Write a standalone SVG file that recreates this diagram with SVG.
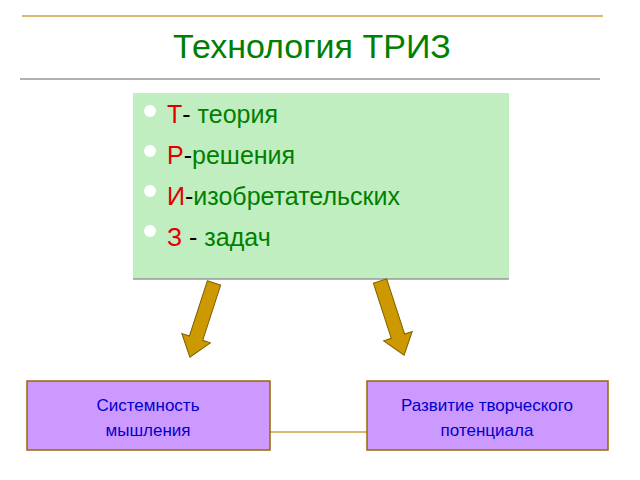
<svg xmlns="http://www.w3.org/2000/svg" width="640" height="480" viewBox="0 0 640 480">
<defs><style>
text{font-family:"Liberation Sans",Arial,sans-serif}
.it{font-size:25px;fill:#008000}
.r{fill:#e00000}
.k{fill:#000}
.box{fill:#cc99ff;stroke:#996600;stroke-width:1.5}
.bt{font-size:17px;fill:#0000cc;text-anchor:middle}
.arr{fill:#cc9900;stroke:#806000;stroke-width:1}
.dot{fill:#fff}
</style>
<path id="a" d="M-7,0 L7,0 L7,58 L15,58 L0,78 L-15,58 L-7,58 Z"/>
</defs>
<rect width="640" height="480" fill="#fff"/>
<g id="title">
<line x1="22" y1="16" x2="603" y2="16" stroke="#c8a040" stroke-width="1.5"/>
<line x1="20" y1="79" x2="600" y2="79" stroke="#b0b0b0" stroke-width="2"/>
<text x="312" y="58" text-anchor="middle" font-size="34" fill="#008000">Технология ТРИЗ</text>
</g>
<g id="list">
<rect x="133" y="93" width="376" height="186" fill="#c0eec0"/>
<line x1="133" y1="279" x2="509" y2="279" stroke="#999" stroke-width="1.5"/>
<circle class="dot" cx="150" cy="111" r="6"/><circle class="dot" cx="150" cy="151" r="6"/><circle class="dot" cx="150" cy="191" r="6"/><circle class="dot" cx="150" cy="231" r="6"/>
<text class="it" x="167" y="123"><tspan class="r">Т</tspan><tspan class="k">- </tspan>теория</text>
<text class="it" x="167" y="164"><tspan class="r">Р</tspan><tspan class="k">-</tspan>решения</text>
<text class="it" x="167" y="205"><tspan class="r">И</tspan><tspan class="k">-</tspan>изобретательских</text>
<text class="it" x="167" y="246"><tspan class="r">З</tspan><tspan class="k"> - </tspan>задач</text>
</g>
<g id="connectors">
<use href="#a" class="arr" transform="translate(214,283) rotate(18)"/>
<use href="#a" class="arr" transform="translate(380,281) rotate(-18)"/>
<line x1="270" y1="432" x2="367" y2="432" stroke="#c8a040" stroke-width="1.5"/>
</g>
<g id="n1">
<rect class="box" x="27" y="381" width="243" height="69"/>
<text class="bt" x="148" y="411">Системность</text>
<text class="bt" x="148" y="436">мышления</text>
</g>
<g id="n2">
<rect class="box" x="367" y="381" width="241" height="69"/>
<text class="bt" x="487" y="411">Развитие творческого</text>
<text class="bt" x="487" y="436">потенциала</text>
</g>
</svg>
